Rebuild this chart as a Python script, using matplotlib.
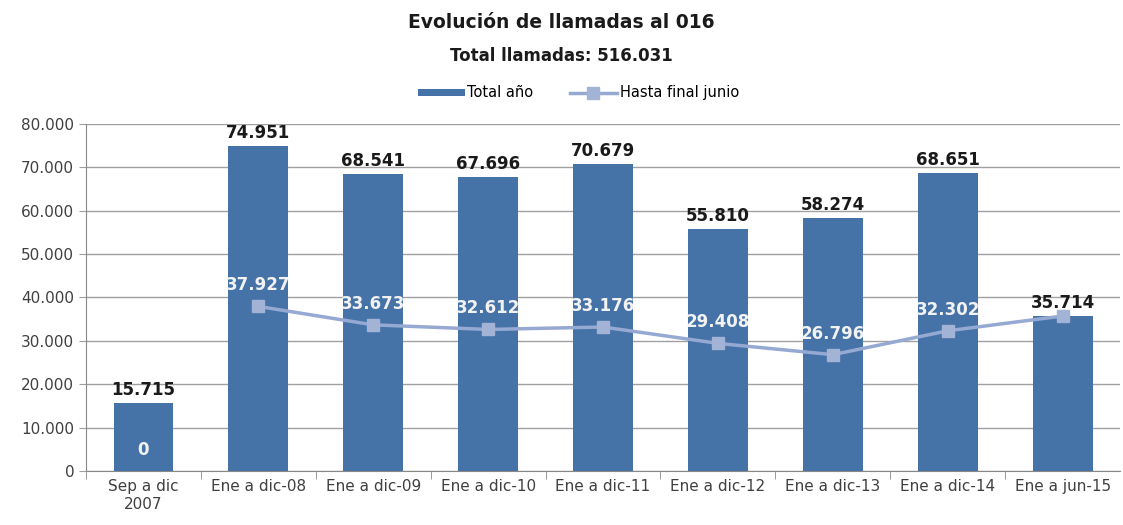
import matplotlib.pyplot as plt
from matplotlib.ticker import FuncFormatter, FixedLocator

categorias = ['Sep a dic\n2007', 'Ene a dic-08', 'Ene a dic-09', 'Ene a dic-10',
              'Ene a dic-11', 'Ene a dic-12', 'Ene a dic-13', 'Ene a dic-14', 'Ene a jun-15']
total_ano = [15715, 74951, 68541, 67696, 70679, 55810, 58274, 68651, 35714]
hasta_junio = [0, 37927, 33673, 32612, 33176, 29408, 26796, 32302, 35714]

def miles(v):
    return f'{int(round(v)):,}'.replace(',', '.')

plt.rcParams['font.family'] = ['DejaVu Sans']

fig = plt.figure(figsize=(11.23, 5.25), dpi=100)
ax = fig.add_axes([0.0766, 0.103, 0.9208, 0.661])

x = list(range(len(categorias)))
barras = ax.bar(x, total_ano, width=0.52, color='#4572A7', zorder=2, label='Total año')
# la serie de junio no tiene punto en 2007
linea, = ax.plot(x[1:], hasta_junio[1:], color='#95A9D3', lw=2.5, marker='s', ms=9,
                 mfc='#A3B3D6', mec='#A3B3D6', zorder=3, label='Hasta final junio')

for i, v in enumerate(total_ano):
    ax.text(i, v + 900, miles(v), ha='center', va='bottom', fontsize=12,
            fontweight='bold', color='#1a1a1a')
for i, v in enumerate(hasta_junio):
    if i == len(hasta_junio) - 1:
        continue
    ax.text(i, v + 2800, miles(v), ha='center', va='bottom', fontsize=12,
            fontweight='bold', color='#F2F2F2', zorder=4)

ax.set_xlim(-0.5, len(categorias) - 0.5)
ax.set_ylim(0, 80000)
ax.set_yticks(range(0, 80001, 10000))
ax.yaxis.set_major_formatter(FuncFormatter(lambda v, p: miles(v)))
ax.set_xticks(x)
ax.set_xticklabels(categorias, fontsize=11, color='#404040')
ax.xaxis.set_minor_locator(FixedLocator([i + 0.5 for i in range(-1, len(categorias) - 1)]))
ax.tick_params(axis='x', which='major', length=0, pad=6)
ax.tick_params(axis='x', which='minor', length=6, color='#888888')
ax.tick_params(axis='y', length=5, color='#A0A0A0', labelsize=11, labelcolor='#404040')
ax.grid(axis='y', color='#A0A0A0', lw=1, zorder=0)
for s in ['top', 'right']:
    ax.spines[s].set_visible(False)
ax.spines['left'].set_color('#888888')
ax.spines['bottom'].set_color('#888888')

fig.text(0.5, 0.958, 'Evolución de llamadas al 016', ha='center', va='center',
         fontsize=13.5, fontweight='bold', color='#1a1a1a')
fig.text(0.5, 0.893, 'Total llamadas: 516.031', ha='center', va='center',
         fontsize=12, fontweight='bold', color='#1a1a1a')
fig.legend(handles=[barras, linea], loc='center', bbox_to_anchor=(0.515, 0.823), ncol=2,
           frameon=False, fontsize=10.5, handlelength=3.2, handleheight=0.4,
           columnspacing=2.5, handletextpad=0.2)

fig.savefig('out.png', dpi=100)
